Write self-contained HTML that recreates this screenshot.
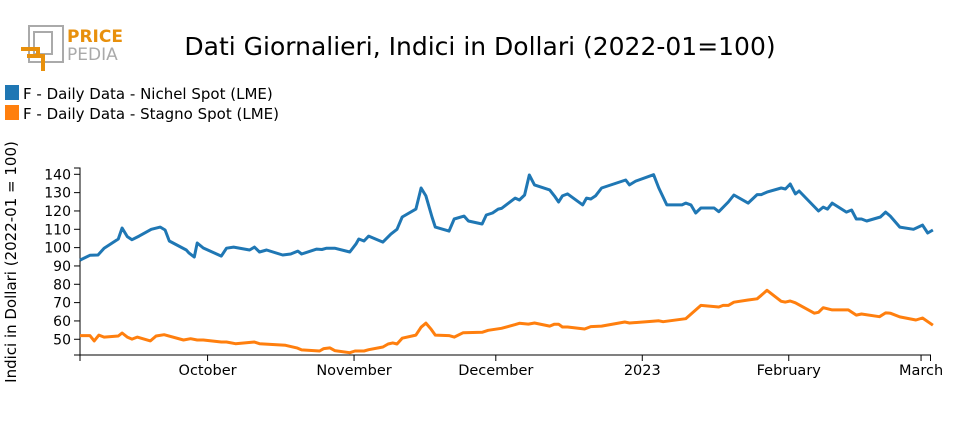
<!DOCTYPE html>
<html><head><meta charset="utf-8"><style>
body{margin:0;background:#fff;font-family:"Liberation Sans","DejaVu Sans",sans-serif}
svg{display:block}
text{font-family:"DejaVu Sans","Liberation Sans",sans-serif;fill:#000}
</style></head><body>
<svg id="chart" width="960" height="430">
<g>
<rect x="29" y="26" width="34" height="36" fill="none" stroke="#aaa" stroke-width="2"/>
<rect x="34" y="32" width="18" height="22" fill="none" stroke="#aaa" stroke-width="2"/>
<path d="M21 49 H38 V58" fill="none" stroke="#e8900c" stroke-width="4"/>
<path d="M27 56 H43 V71" fill="none" stroke="#e8900c" stroke-width="4"/>
<text x="67" y="42" font-size="17" font-weight="bold" style="fill:#e8900c">PRICE</text>
<text x="67" y="60" font-size="17" style="fill:#aaa">PEDIA</text>
</g>
<text x="480" y="55" font-size="25" text-anchor="middle">Dati Giornalieri, Indici in Dollari (2022-01=100)</text>
<g>
<rect x="5" y="85" width="14" height="15" fill="#1f77b4"/>
<text x="23" y="99" font-size="15">F - Daily Data - Nichel Spot (LME)</text>
<rect x="5" y="105" width="14" height="15" fill="#ff7f0e"/>
<text x="23" y="119" font-size="15">F - Daily Data - Stagno Spot (LME)</text>
</g>
<text transform="translate(16,262) rotate(-90)" font-size="15" text-anchor="middle">Indici in Dollari (2022-01 = 100)</text>
<g id="axes"></g><g id="series"></g>
</svg>
<script>
const nichelDays=[0,2.1,3.8,5.1,8.1,8.9,10,11,12.5,15.1,17,18,18.9,22.5,23.1,24.2,24.8,26.1,29.9,31,32.5,35.9,36.9,38,39.5,42.9,44.6,46.1,46.9,50.1,51.2,52.2,53.9,57.1,58.4,59,60.1,61.1,64.1,65.8,67.1,68.2,71.1,72.2,73.2,74.5,75.2,78.1,79.2,81.3,82.2,85.1,86,87.3,88.5,89.2,92.1,93,94.1,95.1,96.2,99.4,100.4,101.3,102.1,103.2,106.4,107.2,108.1,109.1,110.4,115.5,116.3,117.6,121.4,122.5,124.2,127.4,128.2,129.3,130.3,131.4,134.2,135.2,137.2,138.4,141.4,143.3,144.2,145.4,148.4,149.3,150.3,151.4,152.2,156.3,157.3,158.2,159.2,162.2,163.3,164.3,165.4,166.5,169.4,170.5,171.5,173.5,176.4,178.3,179.4,180.5];
const nichelValues=[93.2,95.8,96,99.7,104.7,110.7,106,104.3,106.3,110,111.2,109.6,103.6,98.7,97,94.9,102.5,99.8,95.4,99.7,100.3,98.7,100.3,97.6,98.7,96,96.5,98.1,96.5,99.2,99,99.7,99.7,97.6,101.9,104.7,103.6,106.3,103,107.4,110,116.7,121,132.5,128.2,116.7,111.2,109,115.6,117.2,114.5,112.9,117.8,118.9,121,121.4,127,126,128.7,139.6,134.2,131.5,128.2,124.9,128.2,129.3,123.3,127,126.5,128.2,132.5,136.9,134.2,136.3,139.8,132.5,123.3,123.3,124.3,123.3,118.9,121.6,121.6,119.6,124.9,128.7,124.3,128.9,128.9,130.3,132.5,132,134.7,129.3,130.9,120,122.1,121,124.3,119.4,120.5,115.6,115.6,114.5,116.7,119.4,117.2,111.2,110,112.3,108,109.6];
const stagnoDays=[0,2.1,3,4,5.1,8.1,8.9,10,11,12.1,14.9,16.1,17.8,21.9,23.4,24.8,26.1,29.9,31,32.9,36.9,38,43.5,45.9,46.9,50.7,51.6,52.9,53.9,57.1,58.2,60.1,61.1,64.1,65.2,66.2,67.1,68.2,71.1,72.2,73.2,74.3,75.2,78.1,79.2,81.1,85.1,86.4,89.2,92.1,93,94.9,96.2,99.4,100.4,101.3,102.1,103.2,106.8,108.1,110.4,115.3,116.3,121.2,122.5,123.4,128.2,131.4,135.2,136.1,137.2,138.4,141.4,143.3,144.2,145.4,148.4,149.3,150.3,151.4,155.4,156.3,157.3,159.2,162.6,164.3,165.4,169.2,170.5,171.5,173.5,176.9,178.3,180.5];
const stagnoValues=[52,52,49.1,52.3,51.2,51.8,53.4,51.2,50.1,51.2,49.1,51.8,52.5,49.6,50.3,49.6,49.6,48.5,48.5,47.6,48.5,47.6,46.7,45.3,44.2,43.6,44.9,45.3,43.8,42.7,43.6,43.6,44.3,45.8,47.4,48,47.4,50.6,52.3,56.6,58.8,55.5,52.3,52,51.2,53.6,53.8,54.9,56,58,58.7,58.3,58.9,57.2,58.2,58.2,56.7,56.7,55.6,56.9,57.2,59.4,58.9,59.8,60.1,59.6,61.2,68.5,67.6,68.5,68.5,70.2,71.4,72.1,74,76.7,70.7,70.3,70.9,69.9,64.2,64.7,67.2,66,66,63.2,63.8,62.3,64.4,64.2,62.2,60.5,61.6,57.7];
const yTicks=[50,60,70,80,90,100,110,120,130,140];
const xTickDays=[0,27,58,88,119,150,178];
const xTickLabels=["","October","November","December","2023","February","March"];
const NS="http://www.w3.org/2000/svg";
const X0=80,KX=4.725,X1=930.5;
const xs=d=>X0+d*KX;
const ys=v=>174.3+(140-v)*1.833;
const axes=document.getElementById('axes'),ser=document.getElementById('series');
function mk(tag,attrs,parent){const e=document.createElementNS(NS,tag);for(const k in attrs)e.setAttribute(k,attrs[k]);parent.appendChild(e);return e;}
let yl=mk('path',{d:`M74 168H80V355H74`,fill:'none',stroke:'#000','stroke-width':1},axes);


yTicks.forEach(v=>{const y=ys(v);
 const t=mk('line',{x1:74,x2:80,y1:y,y2:y,stroke:'#000'},axes);
 
 
 const l=mk('text',{x:71,y:y+5,'font-size':14,'text-anchor':'end'},axes);l.textContent=v;
 
 
});
let xl=mk('path',{d:`M${X0} 361V355H${X1}V361`,fill:'none',stroke:'#000'},axes);


xTickDays.forEach((d,i)=>{const x=xs(d);
 const t=mk('line',{x1:x,x2:x,y1:355,y2:361,stroke:'#000'},axes);
 
 
 const l=mk('text',{x:x,y:375,'font-size':14.5,'text-anchor':'middle'},axes);l.textContent=xTickLabels[i];
 
 
});
function line(days,vals,color,name){
 const d=days.map((dd,i)=>(i?'L':'M')+xs(dd).toFixed(1)+' '+ys(vals[i]).toFixed(1)).join('');
 const p=mk('path',{d:d,fill:'none',stroke:color,'stroke-width':3,'stroke-linejoin':'round'},ser);
 
 
}
line(nichelDays,nichelValues,'#1f77b4','nichel-line');
line(stagnoDays,stagnoValues,'#ff7f0e','stagno-line');
</script>
</body></html>
